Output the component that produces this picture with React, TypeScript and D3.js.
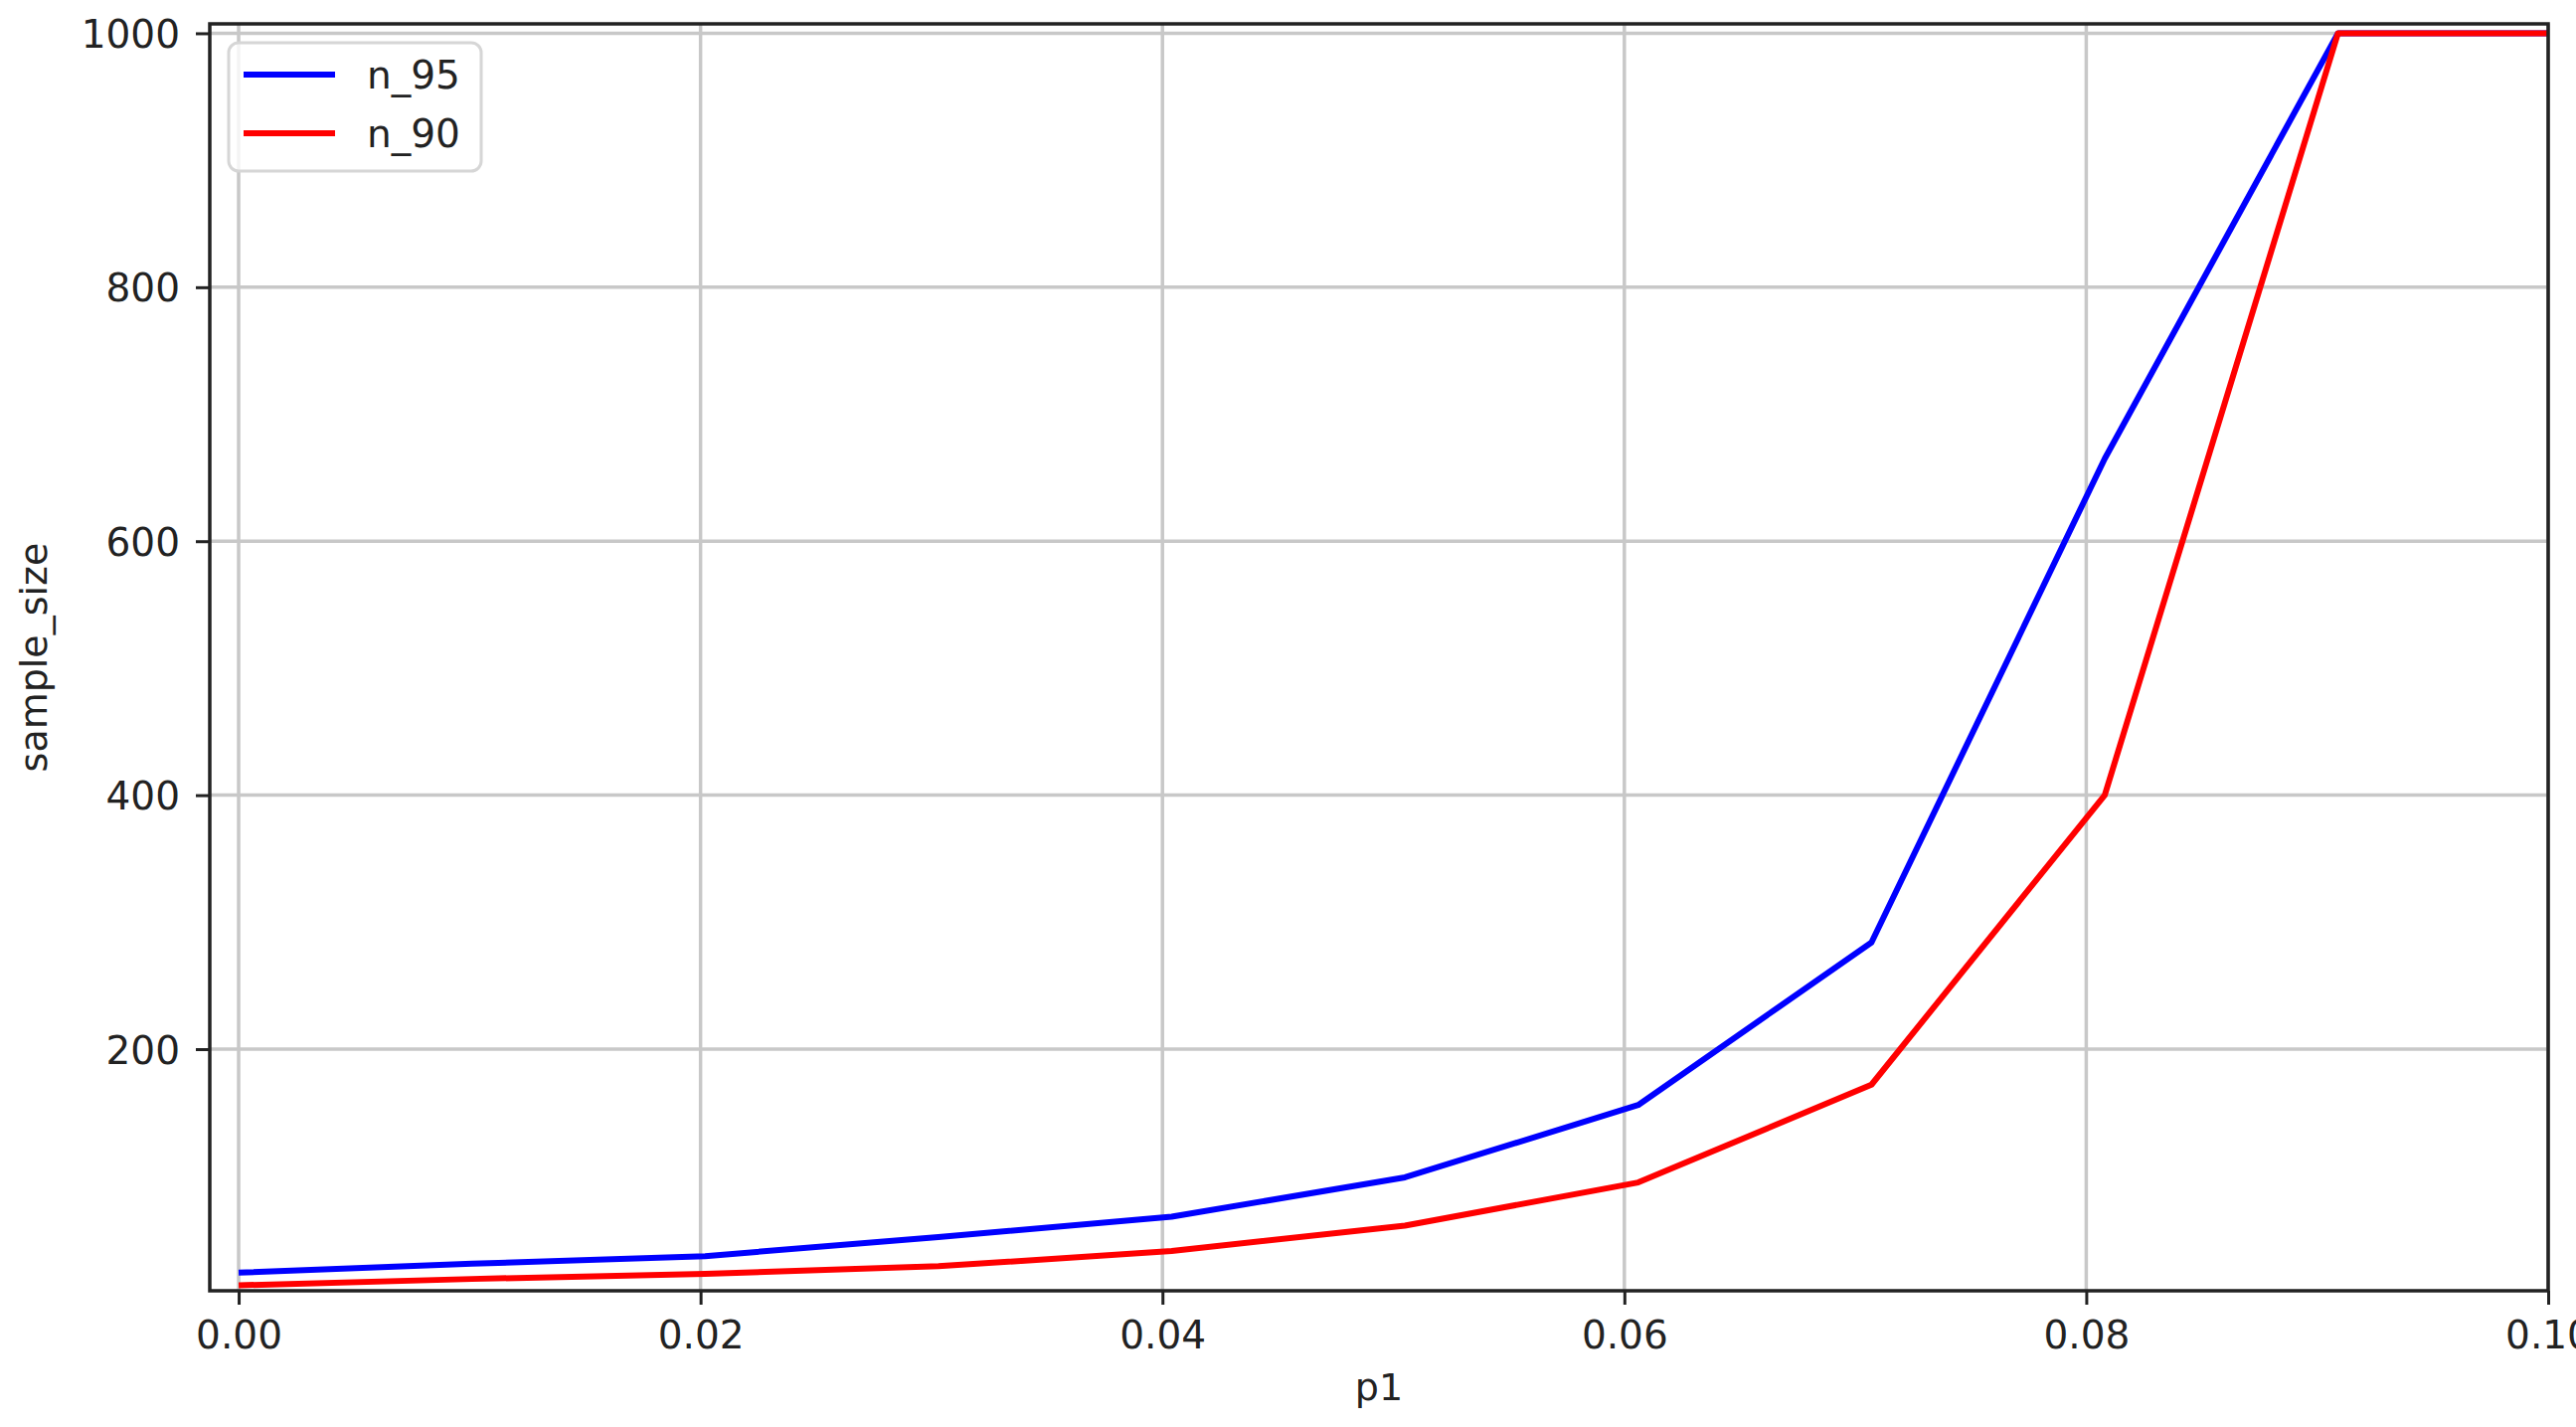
import React, { useRef, useEffect } from "react";
import * as d3 from "d3";

const p1 = [0, 0.0101, 0.0202, 0.0303, 0.0404, 0.0505, 0.0606, 0.0707, 0.0808, 0.0909, 0.1];
const n95 = [24, 31, 37, 52, 68, 99, 156, 284, 665, 1000, 1000];
const n90 = [14, 19, 23, 29, 41, 61, 95, 172, 400, 1000, 1000];

const xTicks = [0, 0.02, 0.04, 0.06, 0.08, 0.1];
const yTicks = [200, 400, 600, 800, 1000];

const seriesList = [
  { name: "n_95", values: n95, color: "#0000ff" },
  { name: "n_90", values: n90, color: "#ff0000" },
];

const width = 2591;
const height = 1435;
const margin = { top: 24, right: 28, bottom: 137, left: 211 };
const font = "'DejaVu Sans', sans-serif";

const LineChart = () => {
  const svgRef = useRef<SVGSVGElement>(null);

  useEffect(() => {
    d3.select(svgRef.current).selectAll("*").remove();

    const svg = d3.select(svgRef.current)
      .attr("viewBox", `0 0 ${width} ${height}`);

    svg.append("rect").attr("width", width).attr("height", height).attr("fill", "#fff");

    const innerWidth = width - margin.left - margin.right;
    const innerHeight = height - margin.top - margin.bottom;

    const xScale = d3.scaleLinear().domain([-0.00125, 0.1]).range([0, innerWidth]);
    const yScale = d3.scaleLinear().domain([9.7, 1007.4]).range([innerHeight, 0]);

    const g = svg.append("g")
      .attr("transform", `translate(${margin.left}, ${margin.top})`);

    // grid
    const grid = g.append("g").attr("stroke", "#c8c8c8").attr("stroke-width", 3.5);
    grid.selectAll(".vg").data(xTicks).enter().append("line")
      .attr("x1", d => xScale(d)).attr("x2", d => xScale(d))
      .attr("y1", 0).attr("y2", innerHeight);
    grid.selectAll(".hg").data(yTicks).enter().append("line")
      .attr("x1", 0).attr("x2", innerWidth)
      .attr("y1", d => yScale(d)).attr("y2", d => yScale(d));

    // lines
    const line = d3.line<number>()
      .x((d, i) => xScale(p1[i]))
      .y(d => yScale(d));

    seriesList.forEach(s => {
      g.append("path")
        .datum(s.values)
        .attr("fill", "none")
        .attr("stroke", s.color)
        .attr("stroke-width", 6)
        .attr("stroke-linejoin", "round")
        .attr("d", line);
    });

    // axes
    const xAxis = g.append("g")
      .attr("transform", `translate(0, ${innerHeight})`)
      .call(d3.axisBottom(xScale).tickValues(xTicks).tickFormat(d3.format(".2f")).tickSize(14).tickPadding(16));
    const yAxis = g.append("g")
      .call(d3.axisLeft(yScale).tickValues(yTicks).tickFormat(d3.format("d")).tickSize(14).tickPadding(16));

    [xAxis, yAxis].forEach(ax => {
      ax.select(".domain").remove();
      ax.selectAll("line").attr("stroke", "#222").attr("stroke-width", 3);
      ax.selectAll("text")
        .attr("fill", "#222")
        .style("font-family", font)
        .style("font-size", "39px");
    });
    yAxis.selectAll("text").attr("dy", "0.36em");
    xAxis.selectAll("text").attr("dy", "0.72em");

    // frame
    g.append("rect")
      .attr("width", innerWidth).attr("height", innerHeight)
      .attr("fill", "none").attr("stroke", "#222").attr("stroke-width", 3.5);

    // axis labels
    svg.append("text")
      .attr("x", margin.left + innerWidth / 2).attr("y", 1408)
      .attr("text-anchor", "middle")
      .attr("fill", "#222")
      .style("font-family", font).style("font-size", "38px")
      .text("p1");

    svg.append("text")
      .attr("transform", `translate(47, ${margin.top + innerHeight / 2}) rotate(-90)`)
      .attr("text-anchor", "middle")
      .attr("fill", "#222")
      .style("font-family", font).style("font-size", "38px")
      .text("sample_size");

    // legend
    const legend = svg.append("g");
    legend.append("rect")
      .attr("x", 230).attr("y", 43).attr("width", 254).attr("height", 129)
      .attr("rx", 10)
      .attr("fill", "#fff").attr("fill-opacity", 0.8)
      .attr("stroke", "#d6d6d6").attr("stroke-width", 3);

    seriesList.forEach((s, i) => {
      const y = 75 + i * 59;
      legend.append("line")
        .attr("x1", 245).attr("x2", 337).attr("y1", y).attr("y2", y)
        .attr("stroke", s.color).attr("stroke-width", 6);
      legend.append("text")
        .attr("x", 369).attr("y", y + 14)
        .attr("fill", "#222")
        .style("font-family", font).style("font-size", "39px")
        .text(s.name);
    });
  }, []);

  return <svg ref={svgRef} width={width} height={height} style={{ position: "absolute", left: 0, top: 0 }}></svg>;
};

export default function App() {
  return <LineChart />;
}
